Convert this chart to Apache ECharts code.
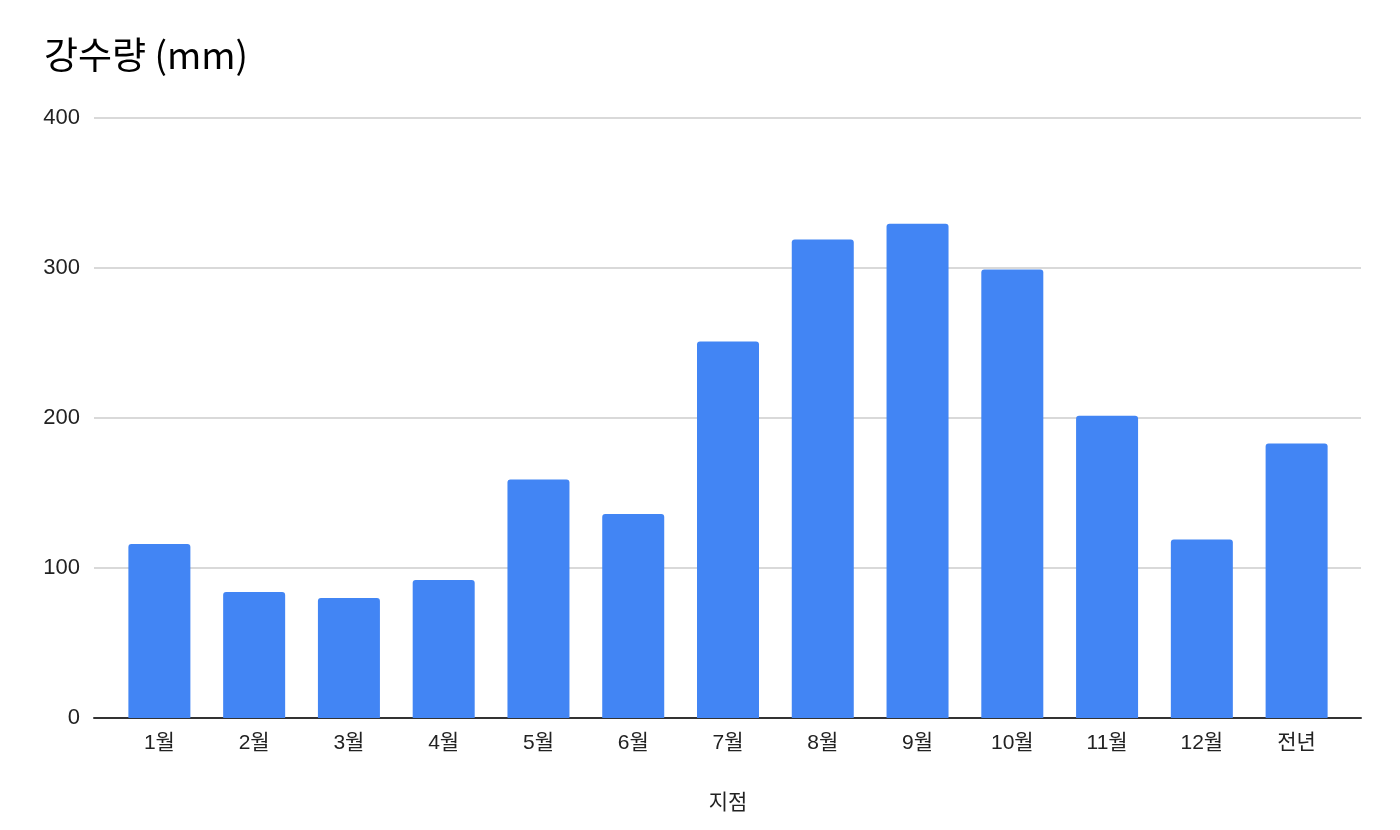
<!DOCTYPE html>
<html>
<head>
<meta charset="utf-8">
<script src="https://cdn.jsdelivr.net/npm/echarts@6/dist/echarts.min.js"></script>
<style>
html,body{margin:0;padding:0;background:#fff;}
#chart{width:1400px;height:830px;}
</style>
</head>
<body>
<div id="chart"></div>
<script>
const categories = ['1월','2월','3월','4월','5월','6월','7월','8월','9월','10월','11월','12월','전년'];
const rainfall = [116, 84, 80, 92, 159, 136, 251, 319, 329.5, 299, 201.5, 119, 183];
const yTicks = [0, 100, 200, 300, 400];
const titleText = '강수량 (mm)';
const xAxisName = '지점';

const labelFont = '"Liberation Sans", "Noto Sans CJK KR", sans-serif';
const chart = echarts.init(document.getElementById('chart'));
chart.setOption({
  animation: false,
  backgroundColor: '#ffffff',
  title: {
    text: titleText,
    left: 39,
    top: 31,
    textStyle: {
      fontFamily: '"Noto Sans CJK KR", "Noto Sans", sans-serif',
      fontSize: 37,
      fontWeight: 'normal',
      color: '#000'
    }
  },
  grid: [
    { left: 94, right: 39, top: 118, bottom: 112, containLabel: false },
    { left: 112, right: 56, top: 118, bottom: 112, containLabel: false }
  ],
  xAxis: [
    {
      gridIndex: 0,
      type: 'category',
      data: categories,
      axisLine: { lineStyle: { color: '#333', width: 2 } },
      axisTick: { show: false },
      axisLabel: { show: false }
    },
    {
      gridIndex: 1,
      type: 'category',
      data: categories,
      name: xAxisName,
      nameLocation: 'middle',
      nameGap: 75,
      nameTextStyle: { fontFamily: labelFont, fontSize: 21, color: '#222' },
      axisLine: { show: false },
      axisTick: { show: false },
      axisLabel: { margin: 15, fontFamily: labelFont, fontSize: 21, color: '#222' }
    }
  ],
  yAxis: [
    {
      gridIndex: 0,
      type: 'value',
      min: yTicks[0],
      max: yTicks[yTicks.length - 1],
      interval: 100,
      axisLine: { show: false },
      axisTick: { show: false },
      axisLabel: { margin: 14, fontFamily: labelFont, fontSize: 22, color: '#222' },
      splitLine: { lineStyle: { color: '#cccccc', width: 1.5 } }
    },
    {
      gridIndex: 1,
      type: 'value',
      min: yTicks[0],
      max: yTicks[yTicks.length - 1],
      interval: 100,
      show: false,
      splitLine: { show: false }
    }
  ],
  series: [{
    type: 'bar',
    xAxisIndex: 1,
    yAxisIndex: 1,
    data: rainfall,
    barWidth: 62,
    itemStyle: { color: '#4285F4', borderRadius: [3, 3, 0, 0] }
  }]
});
</script>
</body>
</html>
